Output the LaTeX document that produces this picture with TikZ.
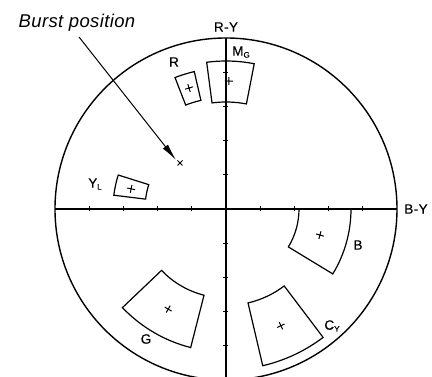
\documentclass[tikz,border=0pt]{standalone}
\usepackage{fontspec}
\setmainfont{Liberation Sans}
\usetikzlibrary{arrows.meta}
\newcommand\annsec[4]{%
  \draw[boxline] (#1:#3) arc[start angle=#1,end angle=#2,radius=#3] -- (#2:#4) arc[start angle=#2,end angle=#1,radius=#4] -- cycle;}
\newcommand\tcross[2]{%
  \begin{scope}[shift={(#1:#2)},rotate=#1]
    \draw[crossline] (-4,0) -- (4,0) (0,-4) -- (0,4);
  \end{scope}}
\newcommand\lsub[1]{\raisebox{-2pt}{\fontsize{8}{8}\selectfont\addfontfeatures{LetterSpace=0}#1}}
\tikzset{
  boxline/.style={line width=1.2pt, line join=miter},
  crossline/.style={line width=1pt},
  axline/.style={line width=1.1pt},
  lbl/.style={inner sep=0pt, font=\fontsize{13.5}{13.5}\selectfont\addfontfeatures{LetterSpace=3,FakeBold=0.4}},
}
\begin{document}
\begin{tikzpicture}[x=1pt,y=1pt]
  \clip (-226,-168) rectangle (206,209);
  % outer circle
  \draw[line width=1.4pt] (0,0) circle[radius=171];
  % axes
  \draw[axline] (-171,0) -- (171,0);
  \draw[axline] (0,-180) -- (0,171);
  \foreach \k in {1,2,3,4}{
    \draw[line width=0.8pt] (\k*34.2,-2.5) -- (\k*34.2,2.5);
    \draw[line width=0.8pt] (-\k*34.2,-2.5) -- (-\k*34.2,2.5);
    \draw[line width=0.8pt] (-2.5,\k*34.2) -- (2.5,\k*34.2);
    \draw[line width=0.8pt] (-2.5,-\k*34.2) -- (2.5,-\k*34.2);
  }
  % target boxes
  \annsec{79}{97.5}{107}{148}      \tcross{88.7}{128}
  \annsec{103}{111.2}{111.5}{141}  \tcross{107}{126.5}
  \annsec{162.5}{173}{81}{113}     \tcross{168}{97}
  \annsec{-31.3}{0}{73}{125}       \tcross{-15.5}{97.5}
  \annsec{223.6}{255.7}{89}{143}   \tcross{240}{115.6}
  \annsec{-76.8}{-52.9}{96.5}{161} \tcross{-64.8}{129}
  % labels
  \node[lbl] (ry) at (0,182) {R-Y};
  \node[lbl] (by) at (190,0) {B-Y};
  \node[lbl] (mg) at (15,157) {M\lsub{G}};
  \node[lbl] (rl) at (-52,147) {R};
  \node[lbl] (yl) at (-131,25) {Y\lsub{L}};
  \node[lbl] (bl) at (132,-36) {B};
  \node[lbl] (gl) at (-80,-130) {G};
  \node[lbl] (cy) at (106,-117) {C\lsub{Y}};
  % burst
  \node[inner sep=0pt, anchor=base, font=\fontsize{18.5}{18.5}\selectfont\itshape\addfontfeatures{LetterSpace=2}] (burst) at (-149,181.7) {Burst position};
  \coordinate (bstart) at (-147,172);
  \coordinate (btip) at (-50,49);
  \coordinate (bx) at (-46,46);
  \draw[line width=1pt, -{Latex[length=17pt,width=6.5pt]}] (bstart) -- (btip);
  \draw[line width=1pt] ([shift={(-2.5,-2.5)}]bx) -- ([shift={(2.5,2.5)}]bx) ([shift={(-2.5,2.5)}]bx) -- ([shift={(2.5,-2.5)}]bx);
\end{tikzpicture}
\end{document}
